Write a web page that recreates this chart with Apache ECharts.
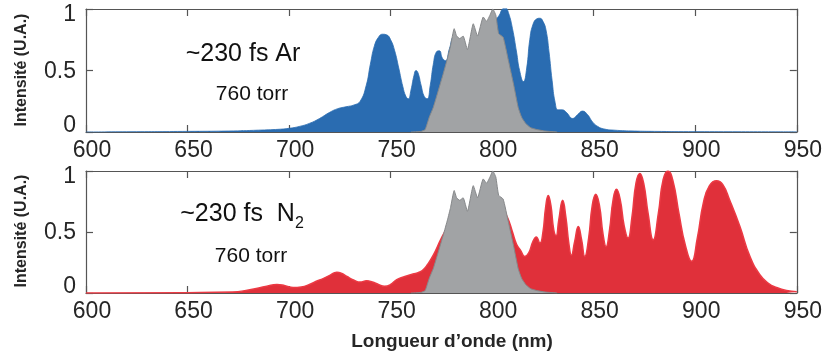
<!DOCTYPE html>
<html>
<head>
<meta charset="utf-8">
<script src="https://cdn.jsdelivr.net/npm/echarts@6/dist/echarts.min.js"></script>
<style>
html,body{margin:0;padding:0;background:#fff;}
#chart{width:825px;height:355px;}
</style>
</head>
<body>
<div id="chart"></div>
<script>
// ---- Data ----
var xTicks = [600, 650, 700, 750, 800, 850, 900, 950];
var yTicks = [0, 0.5, 1];

// Spectrum broadened in Ar (top panel)
var wlAr = [600, 620, 650, 670, 685, 695, 700, 705, 710, 715, 720, 724, 728, 732, 735, 738, 740, 742, 744, 746, 748, 750, 752, 754, 756, 757.5, 758.7, 760, 761.5, 762.5, 763.5, 765, 766.5, 768, 769.5, 771, 772.5, 774, 775.5, 777, 779, 781, 783, 786, 789, 792, 795, 798, 801, 803.5, 805, 806.5, 808, 810, 812, 813.5, 815.4, 817, 818.5, 820, 822, 823.5, 825, 826.5, 828, 829.5, 831, 832.5, 834.5, 836.5, 839.7, 842, 844.5, 847, 849.5, 852, 855, 860, 870, 880, 900, 950];
var intAr = [0.0, 0.002, 0.005, 0.008, 0.015, 0.022, 0.03, 0.045, 0.07, 0.11, 0.16, 0.19, 0.205, 0.22, 0.25, 0.38, 0.55, 0.70, 0.77, 0.795, 0.79, 0.75, 0.66, 0.52, 0.37, 0.29, 0.27, 0.34, 0.46, 0.50, 0.48, 0.38, 0.29, 0.27, 0.38, 0.55, 0.65, 0.66, 0.6, 0.58, 0.68, 0.77, 0.72, 0.62, 0.6, 0.7, 0.8, 0.85, 0.9, 0.95, 1.0, 1.01, 0.97, 0.84, 0.65, 0.5, 0.41, 0.52, 0.75, 0.87, 0.92, 0.925, 0.9, 0.83, 0.65, 0.42, 0.24, 0.18, 0.18, 0.16, 0.11, 0.14, 0.17, 0.14, 0.08, 0.045, 0.025, 0.015, 0.008, 0.005, 0.003, 0.002];

// Input pulse spectrum (grey, both panels)
var wlPump = [760, 765, 767, 769, 771, 773, 776, 778, 779.5, 781.3, 782.5, 784, 785.7, 787.8, 790.7, 792.8, 795.6, 797.2, 798.9, 800.3, 801.8, 803.2, 805.4, 808, 810.5, 812.8, 814.5, 816.5, 819, 822, 826, 832];
var intPump = [0, 0.005, 0.02, 0.12, 0.2, 0.31, 0.48, 0.6, 0.7, 0.84, 0.78, 0.76, 0.78, 0.67, 0.88, 0.78, 0.935, 0.9, 0.95, 1.0, 0.95, 0.8, 0.77, 0.58, 0.39, 0.2, 0.12, 0.07, 0.035, 0.02, 0.008, 0.0];

// Spectrum broadened in N2 (bottom panel)
var wlN2 = [600, 650, 672, 680, 689, 694, 698, 702, 706, 710, 714, 717, 720, 723.5, 726, 728.5, 732, 735, 738.2, 741, 744, 747, 750, 753, 757, 761, 764, 766, 768, 771, 775, 780, 784, 788, 792, 796, 800, 804, 807.5, 810, 812, 814, 816, 818, 820, 821.7, 823.5, 825, 826.3, 827.6, 828.9, 830.3, 831.5, 832.8, 834.7, 836.3, 837.8, 839, 840.6, 842.4, 844, 845.6, 847.5, 849.3, 851, 852.8, 854.6, 856.1, 857.8, 859.5, 861.2, 863, 865, 866.9, 868.8, 870.8, 872.7, 874.6, 876.8, 879.3, 881.8, 884.2, 886.6, 889, 892, 895, 898.2, 901, 904, 907, 910.5, 913.5, 917, 922, 926.9, 931.8, 936, 940, 944.9, 950];
var intN2 = [0.0, 0.003, 0.008, 0.025, 0.055, 0.07, 0.06, 0.045, 0.05, 0.07, 0.1, 0.12, 0.145, 0.17, 0.16, 0.135, 0.105, 0.09, 0.1, 0.09, 0.07, 0.055, 0.07, 0.11, 0.135, 0.155, 0.17, 0.19, 0.23, 0.31, 0.45, 0.6, 0.7, 0.62, 0.68, 0.78, 0.8, 0.72, 0.62, 0.5, 0.4, 0.35, 0.30, 0.33, 0.42, 0.46, 0.41, 0.5, 0.7, 0.80, 0.72, 0.52, 0.47, 0.6, 0.76, 0.62, 0.4, 0.31, 0.42, 0.545, 0.44, 0.30, 0.45, 0.72, 0.81, 0.72, 0.48, 0.38, 0.52, 0.76, 0.85, 0.77, 0.55, 0.45, 0.62, 0.9, 0.98, 0.9, 0.65, 0.435, 0.65, 0.93, 1.0, 0.92, 0.65, 0.4, 0.26, 0.45, 0.74, 0.88, 0.92, 0.89, 0.76, 0.545, 0.30, 0.15, 0.08, 0.045, 0.02, 0.01];

// Text
var labelAr = '~230 fs Ar';
var labelN2 = '~230 fs  N{sub|2}';
var labelP = '760 torr';
var yName = 'Intensité (U.A.)';
var xName = 'Longueur d’onde (nm)';

// ---- Chart ----
function pairs(xs, ys) { return xs.map(function (x, i) { return [x, ys[i]]; }); }

var FONT = 'Liberation Sans';
var AXC = '#555555';
var TXT = '#262626';
var TFS = 23;
var grids = [
  {left: 86, right: 28, top: 9, height: 123},
  {left: 86, right: 28, top: 171, height: 122}
];

function xAx(g, pos, labels) {
  return {
    type: 'value', gridIndex: g, position: pos, min: xTicks[0], max: xTicks[xTicks.length - 1], interval: 50,
    axisLine: {show: true, onZero: false, lineStyle: {color: AXC, width: 1.2}},
    axisTick: {show: true, inside: true, length: 7, lineStyle: {color: AXC, width: 1.2}},
    axisLabel: {show: labels, margin: 7, fontFamily: FONT, fontSize: TFS, color: TXT, padding: [0, 0, 0, 12]},
    splitLine: {show: false}
  };
}
function yAx(g, pos, labels) {
  return {
    type: 'value', gridIndex: g, position: pos, min: yTicks[0], max: yTicks[yTicks.length - 1], interval: 0.5,
    axisLine: {show: true, onZero: false, lineStyle: {color: AXC, width: 1.2}},
    axisTick: {show: true, inside: true, length: 7, lineStyle: {color: AXC, width: 1.2}},
    axisLabel: {
      show: labels, margin: 10, fontFamily: FONT, fontSize: TFS, color: TXT,
      formatter: function (v) {
        if (v === 1) return '{t|1}';
        if (v === 0) return '{b|0}';
        return '{m|' + v + '}';
      },
      rich: {
        t: {fontFamily: FONT, fontSize: TFS, color: TXT, padding: [12, 0, 0, 0]},
        b: {fontFamily: FONT, fontSize: TFS, color: TXT, padding: [0, 0, 12, 0]},
        m: {fontFamily: FONT, fontSize: TFS, color: TXT, padding: [2, 0, 0, 0]}
      }
    },
    splitLine: {show: false}
  };
}

function area(xi, yi, data, fill, stroke, w, sm, z) {
  return {
    type: 'line', xAxisIndex: xi, yAxisIndex: yi, data: data, z: z,
    smooth: sm, showSymbol: false, symbol: 'none',
    lineStyle: {color: stroke, width: w},
    areaStyle: {color: fill, opacity: 1},
    silent: true, animation: false
  };
}

var chart = echarts.init(document.getElementById('chart'), null, {renderer: 'canvas'});
chart.setOption({
  animation: false,
  backgroundColor: '#ffffff',
  grid: grids,
  xAxis: [xAx(0, 'bottom', true), xAx(0, 'top', false), xAx(1, 'bottom', true), xAx(1, 'top', false)],
  yAxis: [yAx(0, 'left', true), yAx(0, 'right', false), yAx(1, 'left', true), yAx(1, 'right', false)],
  series: [
    area(0, 0, pairs(wlAr, intAr), '#2a6cb1', '#2a6cb1', 0.8, 0.5, 2),
    area(0, 0, pairs(wlPump, intPump), '#a1a3a5', '#86888a', 1, 0.15, 4),
    area(2, 2, pairs(wlN2, intN2), '#e0303a', '#ec3a44', 1.5, 0.5, 2),
    area(2, 2, pairs(wlPump, intPump), '#a1a3a5', '#86888a', 1, 0.15, 4)
  ],
  graphic: [
    {type: 'text', x: 243, y: 54, style: {text: labelAr, fontFamily: FONT, fontSize: 25, fill: '#111', align: 'center', verticalAlign: 'middle'}},
    {type: 'text', x: 252, y: 94, style: {text: labelP, fontFamily: FONT, fontSize: 21, fill: '#111', align: 'center', verticalAlign: 'middle'}},
    {type: 'text', x: 242, y: 214, style: {text: labelN2, fontFamily: FONT, fontSize: 25, fill: '#111', align: 'center', verticalAlign: 'middle',
      rich: {sub: {fontFamily: FONT, fontSize: 16, fill: '#111', padding: [20, 0, 0, 0]}}}},
    {type: 'text', x: 251, y: 256, style: {text: labelP, fontFamily: FONT, fontSize: 21, fill: '#111', align: 'center', verticalAlign: 'middle'}},
    {type: 'text', x: 22, y: 70, rotation: Math.PI / 2, style: {text: yName, fontFamily: FONT, fontWeight: 'bold', fontSize: 16, fill: TXT, align: 'center', verticalAlign: 'middle'}},
    {type: 'text', x: 22, y: 231, rotation: Math.PI / 2, style: {text: yName, fontFamily: FONT, fontWeight: 'bold', fontSize: 16, fill: TXT, align: 'center', verticalAlign: 'middle'}},
    {type: 'text', x: 452, y: 342, style: {text: xName, fontFamily: FONT, fontWeight: 'bold', fontSize: 19, fill: TXT, align: 'center', verticalAlign: 'middle'}}
  ]
});
</script>
</body>
</html>
